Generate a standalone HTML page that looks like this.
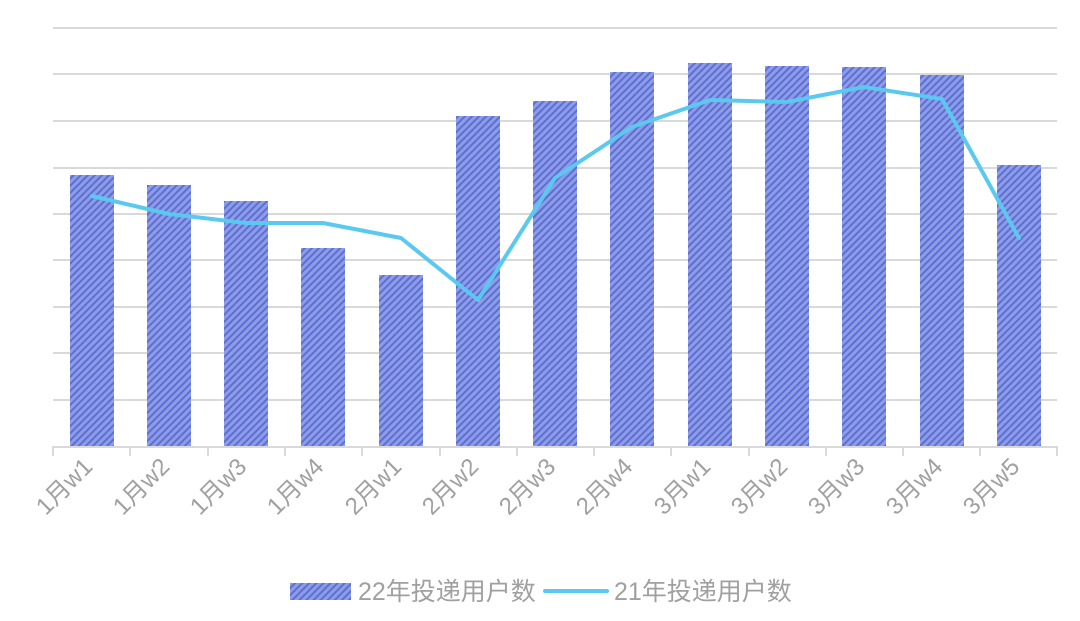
<!DOCTYPE html>
<html><head><meta charset="utf-8"><style>
html,body{margin:0;padding:0;background:#fff;}
svg{display:block;}
text{font-family:"Liberation Sans","Noto Sans CJK SC",sans-serif;fill:#a0a0a0;}
</style></head><body>
<svg width="1080" height="621" viewBox="0 0 1080 621" xmlns="http://www.w3.org/2000/svg">
<defs>
<pattern id="hat" patternUnits="userSpaceOnUse" width="5" height="5" patternTransform="rotate(45)">
<rect width="5" height="5" fill="#8e9ce8"/>
<rect width="2" height="5" fill="#5c6fd2"/>
</pattern>
</defs>
<g stroke="#d9d9d9" stroke-width="2">
<line x1="53" y1="28" x2="1057" y2="28"/>
<line x1="53" y1="74" x2="1057" y2="74"/>
<line x1="53" y1="121" x2="1057" y2="121"/>
<line x1="53" y1="168" x2="1057" y2="168"/>
<line x1="53" y1="214" x2="1057" y2="214"/>
<line x1="53" y1="260" x2="1057" y2="260"/>
<line x1="53" y1="307" x2="1057" y2="307"/>
<line x1="53" y1="353" x2="1057" y2="353"/>
<line x1="53" y1="400" x2="1057" y2="400"/>
</g>
<g fill="url(#hat)">
<rect x="70" y="175" width="44" height="272"/>
<rect x="147" y="185" width="44" height="262"/>
<rect x="224" y="201" width="44" height="246"/>
<rect x="301" y="248" width="44" height="199"/>
<rect x="379" y="275" width="44" height="172"/>
<rect x="456" y="116" width="44" height="331"/>
<rect x="533" y="101" width="44" height="346"/>
<rect x="610" y="72" width="44" height="375"/>
<rect x="688" y="63" width="44" height="384"/>
<rect x="765" y="66" width="44" height="381"/>
<rect x="842" y="67" width="44" height="380"/>
<rect x="920" y="75" width="44" height="372"/>
<rect x="997" y="165" width="44" height="282"/>
</g>
<g stroke="#d9d9d9" stroke-width="2" fill="none">
<line x1="52" y1="447" x2="1058" y2="447"/>
<line x1="53" y1="447" x2="53" y2="456"/>
<line x1="130" y1="447" x2="130" y2="456"/>
<line x1="208" y1="447" x2="208" y2="456"/>
<line x1="285" y1="447" x2="285" y2="456"/>
<line x1="362" y1="447" x2="362" y2="456"/>
<line x1="440" y1="447" x2="440" y2="456"/>
<line x1="517" y1="447" x2="517" y2="456"/>
<line x1="594" y1="447" x2="594" y2="456"/>
<line x1="671" y1="447" x2="671" y2="456"/>
<line x1="749" y1="447" x2="749" y2="456"/>
<line x1="826" y1="447" x2="826" y2="456"/>
<line x1="903" y1="447" x2="903" y2="456"/>
<line x1="980" y1="447" x2="980" y2="456"/>
<line x1="1057" y1="447" x2="1057" y2="456"/>
</g>
<polyline fill="none" stroke="#5bc8f0" stroke-width="4" stroke-linejoin="round" stroke-linecap="round"
points="92,196 169,214 246,223 323,223 401,238 478,300 555,178 632,127 710,100 787,102 864,87 942,99 1019,238"/>
<g font-size="24" text-anchor="end">
<text transform="translate(94,468) rotate(-45)">1月w1</text>
<text transform="translate(171,468) rotate(-45)">1月w2</text>
<text transform="translate(248,468) rotate(-45)">1月w3</text>
<text transform="translate(325,468) rotate(-45)">1月w4</text>
<text transform="translate(403,468) rotate(-45)">2月w1</text>
<text transform="translate(480,468) rotate(-45)">2月w2</text>
<text transform="translate(557,468) rotate(-45)">2月w3</text>
<text transform="translate(634,468) rotate(-45)">2月w4</text>
<text transform="translate(712,468) rotate(-45)">3月w1</text>
<text transform="translate(789,468) rotate(-45)">3月w2</text>
<text transform="translate(866,468) rotate(-45)">3月w3</text>
<text transform="translate(944,468) rotate(-45)">3月w4</text>
<text transform="translate(1021,468) rotate(-45)">3月w5</text>
</g>
<rect x="290" y="583" width="61" height="17" fill="url(#hat)"/>
<text x="358" y="600" font-size="25">22年投递用户数</text>
<line x1="545" y1="591" x2="607" y2="591" stroke="#5bc8f0" stroke-width="4" stroke-linecap="round"/>
<text x="614" y="600" font-size="25">21年投递用户数</text>
</svg>
</body></html>
